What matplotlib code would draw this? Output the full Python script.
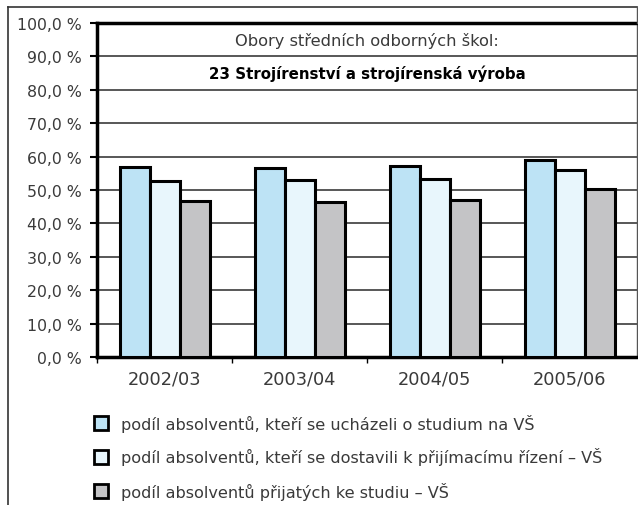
import matplotlib
matplotlib.use("Agg")
import matplotlib.pyplot as plt
from matplotlib.patches import Rectangle
from matplotlib.lines import Line2D
import numpy as np

categories = ["2002/03", "2003/04", "2004/05", "2005/06"]
applied = [56.8, 56.7, 57.2, 59.0]
attended = [52.6, 52.9, 53.4, 56.1]
admitted = [46.8, 46.5, 47.0, 50.4]
series_labels = [
    "podíl absolventů, kteří se ucházeli o studium na VŠ",
    "podíl absolventů, kteří se dostavili k přijímacímu řízení – VŠ",
    "podíl absolventů přijatých ke studiu – VŠ",
]
series_colors = ["#bde3f5", "#e8f6fc", "#c4c4c6"]
y_ticks = [0, 10, 20, 30, 40, 50, 60, 70, 80, 90, 100]
title1 = "Obory středních odborných škol:"
title2 = "23 Strojírenství a strojírenská výroba"

W, H = 638, 506
fig = plt.figure(figsize=(W / 100, H / 100), dpi=100)
plt.rcParams['font.family'] = ['DejaVu Sans']
txt_color = "#3a3a3a"

def fx(px):
    return px / W

def fy(py):
    return 1 - py / H

ax = fig.add_axes([fx(97), fy(358), fx(637) - fx(97), fy(24) - fy(358)])

x = np.arange(len(categories))
bw = 30 / 135
for i, (vals, col) in enumerate(zip([applied, attended, admitted], series_colors)):
    ax.bar(x + (i - 1) * bw, vals, width=bw, color=col, edgecolor="black",
           linewidth=2.2, zorder=3)

ax.set_xlim(-0.5, len(categories) - 0.5)
ax.set_ylim(0, 100)
ax.set_yticks(y_ticks)
ax.set_yticklabels([f"{v:.1f}".replace(".", ",") + " %" for v in y_ticks],
                   fontsize=11.3, color=txt_color)
ax.set_xticks(x)
ax.set_xticklabels(categories, fontsize=12.8, color=txt_color)
ax.set_xticks(np.arange(len(categories)) - 0.5, minor=True)
ax.tick_params(axis="x", which="major", length=0, pad=9)
ax.tick_params(axis="x", which="minor", length=4, width=1, direction="out", color="black")
ax.tick_params(axis="y", length=5, width=1.5, direction="out", pad=6)

for v in y_ticks[1:-1]:
    ax.axhline(v, color="#4a4a4a", linewidth=1.3, zorder=1)

for s in ["left", "bottom", "top"]:
    ax.spines[s].set_linewidth(2.5)
    ax.spines[s].set_color("black")
ax.spines["right"].set_linewidth(1.0)
ax.spines["right"].set_color("#555555")

ax.text(0.5, 0.948, title1, transform=ax.transAxes, ha="center", va="center",
        fontsize=11.7, color=txt_color, zorder=5)
ax.text(0.5, 0.852, title2, transform=ax.transAxes, ha="center", va="center",
        fontsize=10.8, fontweight="bold", color="black", zorder=5)

# figure border (left, top, right top segment)
fig.add_artist(Line2D([fx(7.5), fx(7.5)], [fy(8), 0], transform=fig.transFigure,
                      color="#333333", linewidth=1.2))
fig.add_artist(Line2D([fx(7.5), fx(637)], [fy(8), fy(8)], transform=fig.transFigure,
                      color="#333333", linewidth=1.2))
fig.add_artist(Line2D([fx(637), fx(637)], [fy(8), fy(24)], transform=fig.transFigure,
                      color="#555555", linewidth=1.0))

# legend
row_y = [424, 457.5, 492]
for lab, col, ry in zip(series_labels, series_colors, row_y):
    fig.add_artist(Rectangle((fx(94), fy(ry + 7)), fx(14), fy(0) - fy(14),
                             transform=fig.transFigure, facecolor=col,
                             edgecolor="black", linewidth=2.0))
    fig.text(fx(121), fy(ry), lab, ha="left", va="center", fontsize=11.6,
             color=txt_color)

fig.savefig("out.png", dpi=100)
